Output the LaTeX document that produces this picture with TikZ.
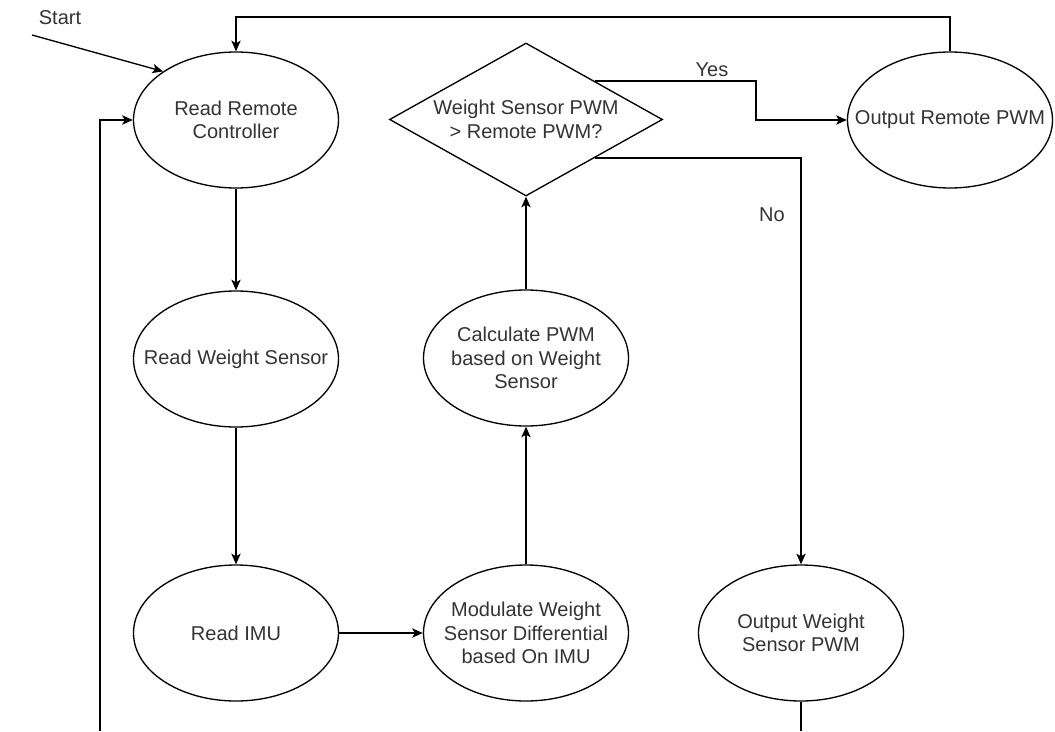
\documentclass[tikz,border=0pt]{standalone}
\usepackage{fontspec}
\setmainfont{Liberation Sans}
\usepackage{tikz}
\usetikzlibrary{arrows.meta}
\usetikzlibrary{shapes.geometric}
\tikzset{basic/.style={draw,text=black!80,align=center,inner sep=0pt,
                       font=\fontsize{15}{17.5}\selectfont}}
% negative inner sep keeps the ellipse from growing round long lines
\tikzset{task/.style={basic,ellipse,inner sep=-20pt,
                      minimum width=153.75pt,minimum height=102pt}}
\tikzset{decision/.style={basic,diamond,shape aspect=1.78,
                          minimum width=204.75pt,minimum height=114.75pt}}
\tikzset{tag/.style={text=black!80,inner sep=0pt,font=\fontsize{15}{17.5}\selectfont}}

\begin{document}
\begin{tikzpicture}[x=0.75pt,y=-0.75pt,line width=1pt,
                    >={Stealth[length=8pt,width=7pt,inset=2pt]}]
  % coordinates are in pixels, y pointing down
  \useasboundingbox (0,0) rectangle (1055,731);

  % First column: reading the inputs
  \node (read_rc)  [task] at (236,120) {Read Remote\\Controller};
  \node (read_ws)  [task] at (236,359) {Read Weight Sensor};
  \node (read_imu) [task] at (236,633) {Read IMU};

  % Second column: weight sensor processing and the comparison
  \node (mod_ws)   [task] at (526,633) {Modulate Weight\\Sensor Differential\\based On IMU};
  \node (calc_pwm) [task] at (526,358) {Calculate PWM\\based on Weight\\Sensor};
  \node (cmp_pwm)  [decision] at (526,119.5) {Weight Sensor PWM\\> Remote PWM?};

  % Outputs
  \node (out_rc) [task] at (950,120) {Output Remote PWM};
  \node (out_ws) [task] at (801,633) {Output Weight\\Sensor PWM};

  % Labels
  \node (start_lbl) [tag] at (60,18) {Start};
  \node (yes_lbl)   [tag] at (712,70) {Yes};
  \node (no_lbl)    [tag] at (772,215) {No};

  % Free ends and bends of the connectors
  \coordinate (start_pt) at (32,35);
  \coordinate (yes_bend) at (756,100);
  \coordinate (top_bend) at (600,17);
  \coordinate (loop_end) at (100,731);
  \coordinate (ows_end)  at (801,731);

  % Main flow
  \path[->]
    (read_rc)  edge (read_ws)
    (read_ws)  edge (read_imu)
    (read_imu) edge (mod_ws)
    (mod_ws)   edge (calc_pwm)
    (calc_pwm) edge (cmp_pwm)
    ;

  \draw[->] (start_pt) -- (read_rc.north west);
  \draw[->] (cmp_pwm.north east) -| (yes_bend) |- (out_rc);
  \draw[->] (cmp_pwm.south east) -| (out_ws);

  % Going back to the start of the loop
  \draw[->] (out_rc.north) |- (top_bend) -| (read_rc.north);
  \draw[->] (loop_end) |- (read_rc.west);
  \draw (out_ws) -- (ows_end);
\end{tikzpicture}
\end{document}
